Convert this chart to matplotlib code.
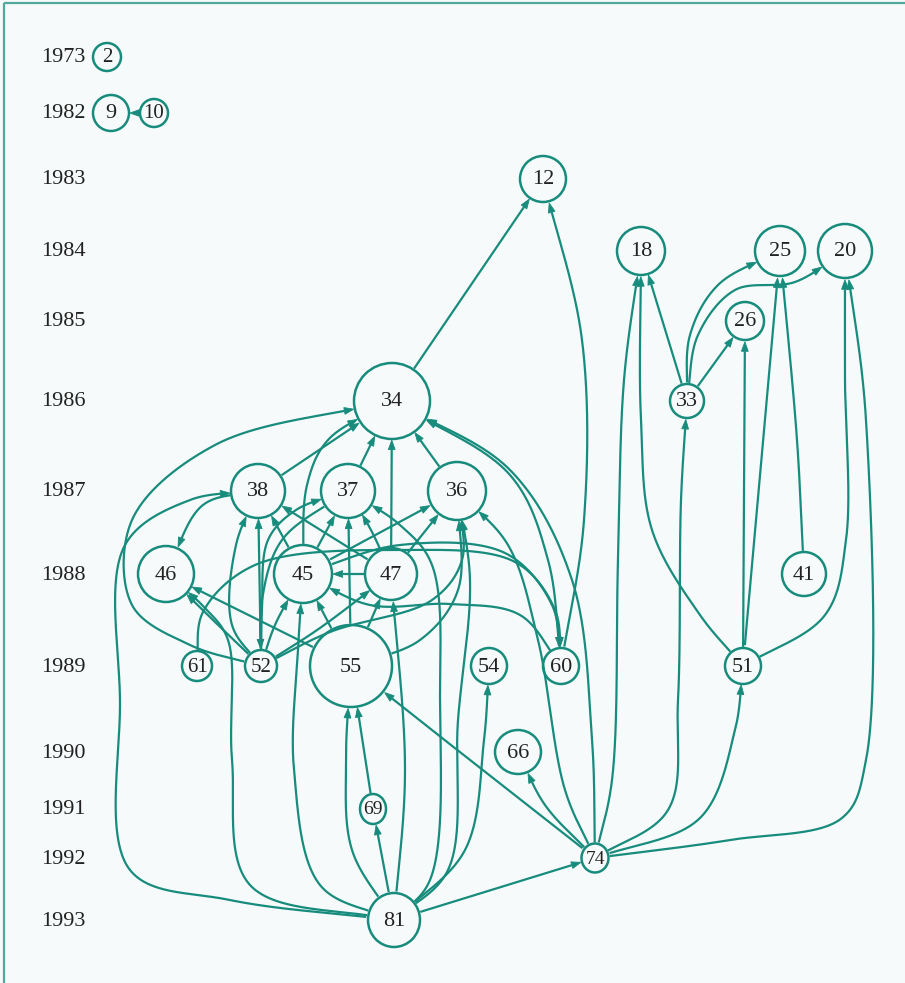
import numpy as np
import matplotlib
matplotlib.use('Agg')
import matplotlib.pyplot as plt
from matplotlib.patches import Ellipse, Polygon

TEAL = '#178c7d'
BG = '#f7fafa'
FONT = 'Liberation Serif'

# ---- data ----
years = ['1973', '1982', '1983', '1984', '1985', '1986', '1987',
         '1988', '1989', '1990', '1991', '1992', '1993']

node_labels = ['2', '9', '10', '12', '18', '25', '20', '26', '34', '33',
               '38', '37', '36', '46', '45', '47', '41',
               '61', '52', '55', '54', '60', '51', '66', '69', '74', '81']
node_years = ['1973', '1982', '1982', '1983', '1984', '1984', '1984', '1985', '1986', '1986',
              '1987', '1987', '1987', '1988', '1988', '1988', '1988',
              '1989', '1989', '1989', '1989', '1989', '1989', '1990', '1991', '1992', '1993']

edges = [
    ('10', '9'), ('34', '12'), ('60', '12'),
    ('33', '18'), ('51', '18'), ('74', '18'),
    ('33', '25'), ('33', '20'), ('33', '26'),
    ('51', '26'), ('51', '25'), ('41', '25'), ('51', '20'), ('74', '20'),
    ('74', '33'), ('74', '51'), ('74', '66'), ('74', '55'), ('74', '36'), ('74', '34'),
    ('60', '34'), ('38', '34'), ('37', '34'), ('36', '34'), ('47', '34'), ('45', '34'), ('52', '34'),
    ('81', '38'), ('38', '46'), ('52', '46'), ('55', '46'), ('81', '46'),
    ('52', '38'), ('52', '38'), ('52', '37'), ('37', '52'),
    ('45', '37'), ('47', '37'), ('55', '37'), ('81', '37'),
    ('45', '38'), ('47', '38'),
    ('45', '36'), ('47', '36'), ('52', '36'), ('55', '36'), ('81', '36'),
    ('47', '45'), ('52', '45'), ('55', '45'), ('81', '45'), ('60', '45'),
    ('52', '47'), ('55', '47'), ('81', '47'),
    ('81', '55'), ('69', '55'), ('81', '54'), ('81', '69'), ('81', '74'),
    ('61', '60'), ('45', '60'),
]

# ---- layout (pixel coordinates) ----
year_y = dict(zip(years, [57, 113, 179, 251, 321, 401, 491, 574, 666, 752, 809, 858, 920]))
node_x = {'2': 107, '9': 111, '10': 154, '12': 543, '18': 641, '25': 780, '20': 845,
          '26': 745, '34': 392, '33': 687, '38': 258, '37': 348, '36': 457,
          '46': 166, '45': 303, '47': 391, '41': 804, '61': 197, '52': 261,
          '55': 351, '54': 489, '60': 561, '51': 743, '66': 518, '69': 373,
          '74': 595, '81': 394}
node_size = {'2': (28, 28), '9': (36, 36), '10': (28, 28), '12': (46, 46), '18': (48, 48),
             '25': (50, 50), '20': (54, 54), '26': (38, 38), '34': (76, 76), '33': (34, 34),
             '38': (54, 54), '37': (54, 54), '36': (58, 58), '46': (56, 56), '45': (58, 58),
             '47': (52, 52), '41': (44, 44), '61': (30, 30), '52': (32, 32), '55': (82, 82),
             '54': (36, 36), '60': (36, 36), '51': (36, 36), '66': (46, 44), '69': (26, 30),
             '74': (27, 29), '81': (52, 54)}

routes = {
    '60>12#0': [(584, 520), (582, 340)],
    '51>18#0': [(700, 615), (652, 530), (641, 420)],
    '74>18#0': [(612, 780), (618, 560), (624, 380)],
    '33>25#0': [(690, 335), (718, 285)],
    '33>20#0': [(698, 335), (735, 290), (795, 282)],
    '41>25#0': [(797, 440)],
    '51>20#0': [(825, 615), (846, 540), (845, 380)],
    '74>20#0': [(730, 840), (842, 818), (866, 760), (866, 420)],
    '74>33#0': [(668, 810), (678, 700), (681, 500)],
    '74>51#0': [(700, 818), (735, 730)],
    '74>66#0': [(545, 805)],
    '74>55#0': [(470, 760)],
    '74>36#0': [(565, 790), (538, 640), (508, 545)],
    '74>34#0': [(592, 740), (572, 580), (510, 470)],
    '60>34#0': [(548, 560), (510, 475)],
    '45>34#0': [(307, 485), (328, 440)],
    '52>34#0': [(190, 645), (132, 605), (132, 520), (215, 445)],
    '81>38#0': [(230, 900), (130, 870), (120, 700), (125, 545), (190, 500)],
    '38>46#0': [(203, 505)],
    '52>46#0': [(215, 622)],
    '81>46#0': [(250, 885), (232, 760), (228, 640), (205, 608)],
    '52>38#1': [(232, 625), (236, 545)],
    '52>37#0': [(262, 610), (268, 540), (296, 510)],
    '37>52#0': [(282, 540), (262, 600)],
    '47>37#0': [(372, 532)],
    '81>37#0': [(430, 880), (440, 700), (432, 565), (400, 525)],
    '52>36#0': [(330, 632), (432, 600), (462, 560)],
    '55>36#0': [(420, 640), (458, 590)],
    '81>36#0': [(448, 870), (458, 720), (470, 580)],
    '52>45#0': [(275, 625)],
    '81>45#0': [(320, 885), (294, 770), (298, 650)],
    '60>45#0': [(520, 615), (450, 604), (370, 605)],
    '52>47#0': [(320, 628)],
    '81>47#0': [(405, 770)],
    '81>55#0': [(352, 850), (346, 760)],
    '81>54#0': [(465, 850), (484, 740)],
    '61>60#0': [(203, 612), (255, 565), (400, 550), (515, 562), (555, 610)],
    '45>60#0': [(400, 545), (505, 553), (552, 605)],
}


def centripetal(points, n=30):
    P = np.array(points, float)
    if len(P) == 2:
        t = np.linspace(0, 1, 200)[:, None]
        return P[0] + (P[1] - P[0]) * t
    P = np.vstack([2 * P[0] - P[1], P, 2 * P[-1] - P[-2]])
    out = []

    def tj(ti, a, b):
        return ti + max(np.linalg.norm(b - a), 1e-6) ** 0.5

    for i in range(1, len(P) - 2):
        p0, p1, p2, p3 = P[i - 1], P[i], P[i + 1], P[i + 2]
        t0 = 0.0
        t1 = tj(t0, p0, p1)
        t2 = tj(t1, p1, p2)
        t3 = tj(t2, p2, p3)
        t = np.linspace(t1, t2, n * 4, endpoint=False)[:, None]
        A1 = (t1 - t) / (t1 - t0) * p0 + (t - t0) / (t1 - t0) * p1
        A2 = (t2 - t) / (t2 - t1) * p1 + (t - t1) / (t2 - t1) * p2
        A3 = (t3 - t) / (t3 - t2) * p2 + (t - t2) / (t3 - t2) * p3
        B1 = (t2 - t) / (t2 - t0) * A1 + (t - t0) / (t2 - t0) * A2
        B2 = (t3 - t) / (t3 - t1) * A2 + (t - t1) / (t3 - t1) * A3
        C = (t2 - t) / (t2 - t1) * B1 + (t - t1) / (t2 - t1) * B2
        out.append(C)
    out.append(P[-2][None])
    return np.vstack(out)


def inside(pts, c, size, pad=1.0):
    a = size[0] / 2 + pad
    b = size[1] / 2 + pad
    return ((pts[:, 0] - c[0]) / a) ** 2 + ((pts[:, 1] - c[1]) / b) ** 2 < 1


fig = plt.figure(figsize=(9.05, 9.83), dpi=100, facecolor=BG)
ax = fig.add_axes([0, 0, 1, 1])
ax.set_facecolor(BG)
ax.set_xlim(0, 905)
ax.set_ylim(983, 0)
ax.axis('off')

pos = {lab: (node_x[lab], year_y[yr]) for lab, yr in zip(node_labels, node_years)}

# frame (top and left)
ax.plot([4, 4], [983, 3], color='#4fa99d', lw=1.6, solid_capstyle='butt')
ax.plot([4, 905], [3, 3], color='#4fa99d', lw=1.6, solid_capstyle='butt')

# year labels
for yr in years:
    ax.text(41, year_y[yr] + 1, yr, ha='left', va='center', fontsize=16,
            family=FONT, color='#222222')

# edges
count = {}
for s, d in edges:
    k = f'{s}>{d}'
    n = count.get(k, 0)
    count[k] = n + 1
    way = routes.get(f'{k}#{n}', [])
    pts = centripetal([pos[s]] + way + [pos[d]])
    ins_s = inside(pts, pos[s], node_size[s])
    ins_d = inside(pts, pos[d], node_size[d])
    i0 = np.argmax(~ins_s)
    i1 = len(pts) - 1 - np.argmax(~ins_d[::-1])
    seg = pts[i0:i1 + 1]
    if len(seg) < 2:
        continue
    tip = seg[-1]
    L = 9.5
    dist = np.cumsum(np.r_[0, np.linalg.norm(np.diff(seg[::-1], axis=0), axis=1)])
    j = np.searchsorted(dist, L)
    j = min(j, len(seg) - 1)
    back = seg[::-1][j]
    dvec = tip - back
    nrm = np.linalg.norm(dvec)
    if nrm < 1e-6:
        dvec = seg[-1] - seg[-2]
        nrm = np.linalg.norm(dvec)
    dvec = dvec / nrm
    base = tip - dvec * L
    perp = np.array([-dvec[1], dvec[0]])
    line = seg[::-1][j:][::-1]
    line = np.vstack([line, base])
    ax.plot(line[:, 0], line[:, 1], color=TEAL, lw=1.6, solid_capstyle='butt',
            solid_joinstyle='round', zorder=2)
    ax.add_patch(Polygon([tip, base + perp * 3.4, base - perp * 3.4], closed=True,
                         facecolor=TEAL, edgecolor=TEAL, lw=0.6, zorder=3))

# nodes
for lab in node_labels:
    w, h = node_size[lab]
    ax.add_patch(Ellipse(pos[lab], w, h, facecolor='none', edgecolor=TEAL, lw=1.8, zorder=4))
    if w >= 34:
        fs = 16
    elif w >= 28:
        fs = 15
    else:
        fs = 14
    ax.text(pos[lab][0], pos[lab][1] + 1, lab, ha='center', va='center', fontsize=fs,
            family=FONT, color='#222222', zorder=5)

fig.savefig('out.png', dpi=100, facecolor=BG)
